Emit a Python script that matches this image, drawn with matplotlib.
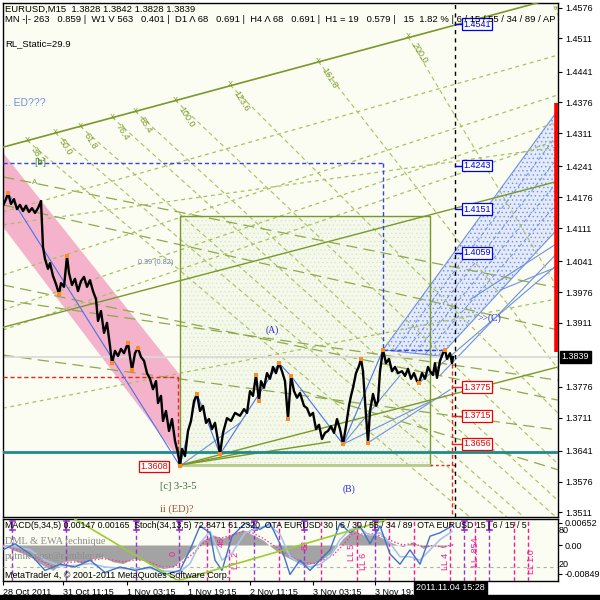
import numpy as np
import matplotlib
matplotlib.use('Agg')
import matplotlib.pyplot as plt
from matplotlib.patches import Polygon, Rectangle

plt.rcParams['font.family'] = ['Liberation Sans', 'DejaVu Sans']
plt.rcParams['hatch.linewidth'] = 0.5

# ---------------- data ----------------
bar_x = [3, 6, 8, 11, 14, 17, 20, 23, 26, 29, 32, 35, 38, 41, 43, 45, 48, 50, 53, 56, 59, 61, 64, 67, 69, 72, 75, 78,
         81, 84, 87, 90, 93, 96, 98, 101, 104, 107, 110, 112, 115, 118, 121, 124, 128, 130, 132, 135, 138, 141, 144,
         147, 150, 153, 156, 158, 161, 163, 166, 169, 172, 175, 178, 180, 182, 185, 188, 191, 194, 197, 200, 203, 206,
         209, 212, 215, 218, 220, 223, 227, 231, 235, 240, 244, 247, 250, 253, 256, 259, 261, 264, 267, 270, 273, 276,
         279, 282, 285, 288, 291, 294, 297, 300, 304, 307, 310, 313, 316, 319, 322, 325, 328, 331, 334, 337, 340, 343,
         346, 349, 351, 353, 356, 359, 361, 363, 365, 368, 370, 373, 376, 378, 380, 383, 386, 389, 392, 395, 398, 402,
         405, 408, 411, 414, 417, 419, 422, 425, 428, 430, 433, 435, 437, 440, 443, 445, 447, 450, 452, 453]
close = [1.4158, 1.4172, 1.4185, 1.4162, 1.4172, 1.4151, 1.4160, 1.4147, 1.4158, 1.4145, 1.4153, 1.4143, 1.4153,
         1.4168, 1.4071, 1.4046, 1.4025, 1.4037, 1.4010, 1.3993, 1.3972, 1.3995, 1.3987, 1.4052, 1.4016, 1.3991,
         1.4004, 1.3978, 1.3999, 1.4008, 1.3987, 1.4001, 1.3978, 1.3961, 1.3915, 1.3936, 1.3890, 1.3911, 1.3862,
         1.3826, 1.3852, 1.3841, 1.3856, 1.3847, 1.3869, 1.3839, 1.3812, 1.3847, 1.3858, 1.3839, 1.3831, 1.3805,
         1.3793, 1.3771, 1.3788, 1.3742, 1.3757, 1.3704, 1.3725, 1.3683, 1.3708, 1.3662, 1.3636, 1.3609, 1.3645,
         1.3630, 1.3683, 1.3704, 1.3746, 1.3761, 1.3725, 1.3736, 1.3700, 1.3708, 1.3687, 1.3700, 1.3662, 1.3634,
         1.3679, 1.3710, 1.3704, 1.3721, 1.3715, 1.3729, 1.3721, 1.3767, 1.3757, 1.3801, 1.3746, 1.3788, 1.3774,
         1.3805, 1.3793, 1.3818, 1.3805, 1.3826, 1.3809, 1.3788, 1.3708, 1.3799, 1.3767, 1.3753, 1.3763, 1.3736,
         1.3731, 1.3715, 1.3721, 1.3687, 1.3696, 1.3666, 1.3679, 1.3683, 1.3693, 1.3679, 1.3708, 1.3687, 1.3655,
         1.3693, 1.3736, 1.3757, 1.3774, 1.3805, 1.3820, 1.3835, 1.3809, 1.3746, 1.3658, 1.3725, 1.3761, 1.3736,
         1.3746, 1.3809, 1.3854, 1.3826, 1.3835, 1.3809, 1.3818, 1.3805, 1.3809, 1.3799, 1.3814, 1.3793, 1.3805,
         1.3788, 1.3784, 1.3805, 1.3793, 1.3818, 1.3809, 1.3801, 1.3826, 1.3795, 1.3831, 1.3847, 1.3854, 1.3835,
         1.3847, 1.3826, 1.3839]
swing_x = [8, 59, 67, 112, 128, 132, 138, 180, 197, 220, 256, 259, 279, 288, 291, 343, 361, 368, 383, 419, 445]

price_ticks = [1.4576, 1.4511, 1.4441, 1.4376, 1.4311, 1.4241, 1.4176, 1.4111, 1.4041, 1.3976, 1.3911,
               1.3776, 1.3711, 1.3641, 1.3576, 1.3511]
last_price = 1.3839
date_pos = [3, 63, 127, 188, 250, 313, 375]
date_labels = ['28 Oct 2011', '31 Oct 11:15', '1 Nov 03:15', '1 Nov 19:15', '2 Nov 11:15', '3 Nov 03:15', '3 Nov 19:']

# trend-line objects: ((t0, p0), (t1, p1))
fib_main = ((0, 1.4280), (558, 1.4598))
olive_solid = [((0, 1.3900), (558, 1.4210)), ((180, 1.3611), (558, 1.3818)),
               ((180, 1.3611), (330, 1.3660)), ((180, 1.3611), (250, 1.3640))]
olive_longdash = [((3, 1.4219), (558, 1.3985)), ((3, 1.4160), (558, 1.3896)), ((3, 1.3991), (558, 1.3748)),
                  ((3, 1.3959), (558, 1.3790)), ((3, 1.3843), (558, 1.3685)), ((300, 1.3769), (558, 1.3601))]
olive_shortdash = [((3, 1.4145), (558, 1.4476)), ((3, 1.4012), (558, 1.4392)), ((3, 1.3896), (558, 1.4297)),
                   ((3, 1.3731), (558, 1.3962)), ((3, 1.4118), (558, 1.4282)), ((3, 1.3938), (558, 1.4335))]
fib_names = ['38.2', '50.0', '61.8', '76.4', '85.4', '100.0', '123.6', '161.8', '200.0', '261.8']
fib_t0 = [27, 55, 80, 112, 135, 175, 230, 318, 408, 550]
fib_p0 = [1.4296, 1.4312, 1.4326, 1.4345, 1.4358, 1.4381, 1.4413, 1.4463, 1.4515, 1.4597]
fib_t1 = [470, 507, 524, 556, 576, 614, 662, 674, 694, 786]
fib_p1 = 1.3501
box_t = (180, 430)
box_p = (1.3611, 1.4137)
pink_channel = [(0, 1.4278), (246, 1.3626), (178, 1.3626), (0, 1.4122)]
pink_small = [(382, 1.3862), (392, 1.3862), (424, 1.3790), (416, 1.3776)]
blue_channel = [(383, 1.3854), (558, 1.4360), (558, 1.4110), (440, 1.3841)]
blue_channel_inner = [((395, 1.3854), (558, 1.4310)), ((405, 1.3850), (558, 1.4260)), ((415, 1.3848), (558, 1.4210)),
                      ((425, 1.3845), (558, 1.4165))]
blue_zigzag_t = [8, 180, 197, 220, 279, 291, 343, 383]
blue_fan = [((343, 1.3655), (400, 1.3800)), ((343, 1.3655), (430, 1.3745)), ((368, 1.3658), (450, 1.3770)),
            ((180, 1.3609), (240, 1.3700)), ((419, 1.3784), (558, 1.4035)), ((440, 1.3800), (558, 1.4060)),
            ((470, 1.3960), (558, 1.4080)), ((500, 1.3980), (558, 1.4030))]
red_levels = [1.3775, 1.3715, 1.3656]
blue_levels = [1.4541, 1.4243, 1.4151, 1.4059]
low_level = 1.3608
teal_level = 1.3639
b_rect_p = 1.4248
b_rect_t = 383
b_rect_low = 1.3854
red_rect_p = 1.3797
red_rect_t = 178
red_bar = (1.3850, 1.4375)
now_t = 455

macd_x = [3, 13, 23, 33, 43, 53, 63, 73, 83, 93, 103, 113, 123, 133, 143, 153, 163, 173, 183, 193, 203, 213, 223,
          233, 243, 253, 263, 273, 283, 293, 303, 313, 323, 333, 343, 353, 363, 373, 383, 393, 403, 413, 423, 433,
          443, 453]
macd_v = [0.0, -0.0015, -0.0025, -0.004, -0.006, -0.0075, -0.005, -0.0045, -0.0055, -0.004, -0.0035, -0.005,
          -0.0055, -0.004, -0.0045, -0.006, -0.007, -0.0065, -0.004, -0.001, 0.0015, 0.003, 0.002, 0.0035, 0.0045,
          0.003, 0.0015, -0.001, -0.003, -0.0045, -0.006, -0.0055, -0.004, -0.002, 0.002, 0.0045, 0.003, 0.0035,
          0.002, 0.0005, -0.0005, 0.001, -0.001, 0.0, -0.0008, 0.0005]
macd_sig = [0.0, -0.001, -0.002, -0.0035, -0.005, -0.0065, -0.0055, -0.005, -0.005, -0.0045, -0.004, -0.0045,
            -0.005, -0.0045, -0.0045, -0.0055, -0.0065, -0.0065, -0.005, -0.0025, 0.0005, 0.002, 0.0022, 0.003,
            0.004, 0.0035, 0.002, 0.0, -0.002, -0.0038, -0.0052, -0.0055, -0.0045, -0.003, 0.0, 0.0035, 0.0032,
            0.0033, 0.0025, 0.001, 0.0, 0.0005, -0.0005, -0.0002, -0.0006, 0.0]
stoch_x = [3, 15, 30, 45, 60, 75, 90, 105, 120, 135, 150, 165, 180, 190, 200, 210, 215, 222, 232, 245, 260, 270, 280,
           290, 300, 310, 320, 330, 340, 350, 360, 370, 380, 390, 400, 410, 420, 430, 440, 452]
stoch_main = [45, 54, 39, 15, 24, 20, 30, 12, 20, 15, 20, 9, 15, 45, 80, 70, 30, 15, 65, 84, 75, 84, 54, 9, 30, 15,
              30, 45, 84, 70, 80, 54, 80, 39, 24, 45, 24, 65, 70, 80]
stoch_sig = [50, 50, 45, 30, 22, 22, 25, 20, 18, 17, 18, 14, 13, 25, 55, 72, 55, 30, 40, 70, 78, 80, 68, 35, 25, 20,
             24, 35, 60, 75, 76, 66, 70, 55, 35, 35, 30, 45, 60, 72]
purple_lines = [12, 66, 136, 179, 254, 304, 375, 464, 489]
magenta_lines = [207, 229, 279, 321, 357, 389, 414, 450, 475, 514, 528]
magenta_labels = [('0', 173, 40), ('46', 221, 56), ('LL 2', 236, 30), ('82', 305, 52), ('LL 5', 352, 41),
                  ('LL 6', 364, 28), ('LL 4', 445, 28), ('LL .854', 475, 42), ('LL 1.0', 532, 28)]
panel_green = [(75, 90), (178, 0), (385, 88)]

# ---------------- figure ----------------
BG = '#fbfdf2'
fig = plt.figure(figsize=(6, 6), dpi=100, facecolor='white')
ax = fig.add_axes([3 / 600, 83 / 600, 555 / 600, 514 / 600])
ax.set_facecolor(BG)
ax.set_xlim(3, 558)
ax.set_ylim(1.35014, 1.45859)
for s in ax.spines.values():
    s.set_color('black')
    s.set_linewidth(1)

OL = '#7a982a'
YG = '#a9c060'

# pink channel
ax.add_patch(Polygon(pink_channel, closed=True, facecolor='#f4b3cb', edgecolor='none', zorder=1))
ax.add_patch(Polygon(pink_small, closed=True, facecolor='#f4b3cb', edgecolor='none', zorder=1))

# box with dotted fill
ax.add_patch(Rectangle((box_t[0], box_p[0]), box_t[1] - box_t[0], box_p[1] - box_p[0], facecolor='#f5f9ec',
                       edgecolor='#dbe7c6', hatch='....', linewidth=0, zorder=1))
ax.add_patch(Rectangle((box_t[0], box_p[0]), box_t[1] - box_t[0], box_p[1] - box_p[0], facecolor='none',
                       edgecolor=OL, linewidth=1.0, zorder=3))
ax.plot([box_t[0], box_t[1]], [box_p[0], box_p[0]], color='#b9cb8a', lw=2, zorder=3)

# blue channel
ax.add_patch(Polygon(blue_channel, closed=True, facecolor='#e4eaf8', edgecolor='#6d8fe6', hatch='....',
                     linewidth=0.8, zorder=1))
for (a, b) in blue_channel_inner:
    ax.plot([a[0], b[0]], [a[1], b[1]], color='#6d8fe6', lw=0.7, ls=(0, (4, 3)), zorder=2)
for (a, b) in blue_fan:
    ax.plot([a[0], b[0]], [a[1], b[1]], color='#6d8fe6', lw=0.8, zorder=2)

# fib lines
ax.plot([fib_main[0][0], fib_main[1][0]], [fib_main[0][1], fib_main[1][1]], color=OL, lw=1.2, zorder=3)
for name, t0, p0, t1 in zip(fib_names, fib_t0, fib_p0, fib_t1):
    ax.plot([t0, t1], [p0, fib_p1], color=YG, lw=0.8, ls=(0, (4, 3)), zorder=2)
    ax.text(t0 + 2, p0 - 0.0010, name, color=OL, fontsize=6.5, rotation=-58, ha='left', va='top', zorder=4,
            clip_on=True)
    ax.text(t0, p0, 'X', color=OL, fontsize=5.5, ha='center', va='center', zorder=4, clip_on=True)

for (a, b) in olive_solid:
    ax.plot([a[0], b[0]], [a[1], b[1]], color=OL, lw=1.0, zorder=3)
for (a, b) in olive_longdash:
    ax.plot([a[0], b[0]], [a[1], b[1]], color='#8fa94a', lw=0.9, ls=(0, (9, 5)), zorder=2)
for (a, b) in olive_shortdash:
    ax.plot([a[0], b[0]], [a[1], b[1]], color=YG, lw=0.9, ls=(0, (3, 3)), zorder=2)

# horizontal levels
ax.axhline(last_price, color='#d8d8d8', lw=1.2, zorder=2)
ax.axhline(teal_level, color='#1f8a8a', lw=2, zorder=4)
ax.plot([3, b_rect_t], [b_rect_p, b_rect_p], color='#3344ee', lw=1, ls=(0, (3, 2)), zorder=3)
ax.plot([b_rect_t, b_rect_t], [b_rect_p, b_rect_low], color='#3344ee', lw=1, ls=(0, (3, 2)), zorder=3)
ax.plot([b_rect_t, 445], [b_rect_low, b_rect_low], color='#3344ee', lw=1, ls=(0, (3, 2)), zorder=3)
ax.plot([3, red_rect_t], [red_rect_p, red_rect_p], color='#ee2222', lw=1, ls=(0, (3, 2)), zorder=3)
ax.plot([red_rect_t, red_rect_t], [red_rect_p, box_p[0]], color='#ee2222', lw=1, ls=(0, (3, 2)), zorder=3)
ax.plot([box_t[1], now_t], [box_p[0], box_p[0]], color='#ee2222', lw=1, ls=(0, (2, 2)), zorder=3)
ax.axvline(now_t, color='black', lw=1, ls=(0, (3, 3)), zorder=5)
ax.plot([452, 452], [last_price, 1.3501], color='#ee2222', lw=1, ls=(0, (3, 2)), zorder=5)
ax.plot([557, 557], list(red_bar), color='#ff0000', lw=4, solid_capstyle='butt', zorder=6)

# blue zigzag
lookup = dict(zip(bar_x, close))
ax.plot(blue_zigzag_t, [lookup[t] for t in blue_zigzag_t], color='#4a72e8', lw=0.8, zorder=4)

# price
ax.plot(bar_x, close, color='black', lw=1.7, zorder=7)
ax.scatter(swing_x, [lookup[t] for t in swing_x], marker='s', s=6, color='#ff8c1a', zorder=8, linewidths=0)

# level boxes
for v in red_levels:
    ax.plot([452, 462], [v, v], color='#ee2222', lw=1, zorder=6)
    ax.text(463, v, f'{v:.4f}', color='#ee0000', fontsize=6.5, ha='left', va='center', zorder=9,
            bbox=dict(boxstyle='square,pad=0.15', facecolor='white', edgecolor='#ee0000', lw=0.9))
for v in blue_levels:
    ax.plot([455, 462], [v, v], color='#0000ee', lw=1, zorder=6)
    ax.text(463, v, f'{v:.4f}', color='#0000ee', fontsize=6.5, ha='left', va='center', zorder=9,
            bbox=dict(boxstyle='square,pad=0.15', facecolor=BG, edgecolor='#0000ee', lw=0.9))
ax.text(168, low_level, f'{low_level:.4f}', color='#ee0000', fontsize=6.5, ha='right', va='center', zorder=9,
        bbox=dict(boxstyle='square,pad=0.15', facecolor='white', edgecolor='#ee0000', lw=0.9))

# wave labels
ax.text(272, 1.3896, '(A)', color='#2b2bd0', fontsize=7, family='Liberation Serif', ha='center', va='center')
ax.text(349, 1.3561, '(B)', color='#2b2bd0', fontsize=7, family='Liberation Serif', ha='center', va='center')
ax.text(478, 1.3921, '>>(C)', color='#2b2bd0', fontsize=7, family='Liberation Serif', ha='left', va='center', zorder=9)
ax.text(160, 1.3565, '[c] 3-3-5', color='#2f6e2f', fontsize=7.5, family='Liberation Serif', ha='left', va='center')
ax.text(160, 1.3518, 'ii (ED)?', color='#a0522d', fontsize=7.5, family='Liberation Serif', ha='left', va='center')
ax.text(5, 1.4375, '.. ED???', color='#6f8fdf', fontsize=7.5, ha='left', va='center')
ax.text(34, 1.4250, '[b]', color='#2f7a2f', fontsize=7.5, family='Liberation Serif', ha='left', va='center')
ax.text(32, 1.4208, 'A', color='#7f9c2c', fontsize=5.5, ha='left', va='center')
ax.text(138, 1.4039, '0.39 (0.82)', color='#6a7fa0', fontsize=5.2, ha='left', va='center')

# header
ax.text(0.004, 0.988, 'EURUSD,M15  1.3828 1.3842 1.3828 1.3839', transform=ax.transAxes, fontsize=6.8,
        ha='left', va='center', zorder=10)
ax.text(0.004, 0.967, 'MN -|- 263   0.859 |  W1 V 563   0.401 |  D1 Λ 68   0.691 |  H4 Λ 68   0.691 |  '
        'H1 = 19   0.579 |   15  1.82 % | 6 / 15 / 55 / 34 / 89 / AP', transform=ax.transAxes, fontsize=6.8,
        ha='left', va='center', zorder=10, clip_on=True)
ax.text(0.004, 0.920, 'RL_Static=29.9', transform=ax.transAxes, fontsize=6.8, ha='left', va='center', zorder=10)

ax.set_xticks([])
ax.yaxis.tick_right()
ax.set_yticks(price_ticks)
ax.set_yticklabels([f'{v:.4f}' for v in price_ticks])
ax.tick_params(axis='y', direction='out', length=3, labelsize=6.5, pad=2)
ax.text(1.006, (last_price - 1.35014) / (1.45859 - 1.35014), f'{last_price:.4f}', transform=ax.transAxes,
        fontsize=6.5, color='white', ha='left', va='center',
        bbox=dict(boxstyle='square,pad=0.2', facecolor='black', edgecolor='black'))

# ---------------- indicator panel ----------------
ax2 = fig.add_axes([3 / 600, 19 / 600, 555 / 600, 62 / 600])
ax2.set_facecolor(BG)
ax2.set_xlim(3, 558)
ax2.set_ylim(-0.01066, 0.0077)
ax2.fill_between(macd_x, 0, macd_v, color='#a3a3a3', lw=0, zorder=2)
ax2.plot(macd_x, macd_sig, color='#ff3399', lw=1, ls=(0, (1, 1.5)), zorder=3)
for s in ax2.spines.values():
    s.set_color('black')
    s.set_linewidth(1)

ax3 = ax2.twinx()
ax3.set_ylim(-0.5, 90.2)
ax3.set_xlim(3, 558)
ax3.set_yticks([])
for s in ax3.spines.values():
    s.set_visible(False)

ax2.yaxis.tick_right()
ax2.set_yticks([0.00652, 0.0, -0.00849])
ax2.set_yticklabels(['0.00652', '0.00', '-0.00849'])
ax2.tick_params(axis='y', direction='out', length=3, labelsize=6.5, pad=2, left=False, labelleft=False,
                right=True, labelright=True)
ax2.set_xticks(date_pos)
ax2.set_xticklabels(date_labels)
for lbl in ax2.get_xticklabels():
    lbl.set_ha('left')
ax2.tick_params(axis='x', direction='out', length=3, labelsize=6.5, pad=2)

ax3.axhline(20, color='#b0b0b0', lw=0.8, ls=(0, (3, 3)), zorder=1)
for x in purple_lines:
    ax3.axvline(x, color='#9932cc', lw=1, ls=(0, (3, 2)), zorder=2)
    ax3.plot([x, x], [74, 88], color='#9932cc', lw=1.5, zorder=3)
    ax3.plot([x - 2.5, x + 2.5], [88, 88], color='#9932cc', lw=1.2, zorder=3)
    ax3.plot([x - 2.5, x + 2.5], [74, 74], color='#9932cc', lw=1.2, zorder=3)
for x in magenta_lines:
    ax3.axvline(x, color='#ff1493', lw=1, ls=(0, (3, 2)), zorder=2)
for t, x, yv in magenta_labels:
    ax3.text(x, yv, t, color='#ff1493', fontsize=6.5, rotation=90, ha='center', va='center', zorder=3)
ax3.plot(stoch_x, stoch_sig, color='#a9c4eb', lw=1.2, zorder=4)
ax3.plot(stoch_x, stoch_main, color='#3d72cc', lw=1.0, zorder=5)
ax3.plot([p[0] for p in panel_green], [p[1] for p in panel_green], color='#9acd32', lw=1.2, zorder=6)
ax3.text(559, 74, '80', fontsize=6.5, ha='left', va='center', clip_on=False)
ax3.text(559, 24, '20', fontsize=6.5, ha='left', va='center', clip_on=False)

ax3.text(5, 81, 'MACD(5,34,5) 0.00147 0.00165  Stoch(34,13,5) 72.8471 61.2320  OTA EURUSD 30 | 6 / 30 / 55 / 34 / 89'
         '  OTA EURUSD 15 | 6 / 15 / 5', fontsize=6.3, ha='left', va='center', zorder=8, clip_on=True)
ax3.text(5, 57, 'DML & EWA technique', fontsize=7.5, color='#8c8c8c', family='Liberation Serif', ha='left',
         va='center', zorder=8)
ax3.text(5, 35, 'putnik-post@rambler.ru', fontsize=7.5, color='#8c8c8c', family='Liberation Serif', ha='left',
         va='center', zorder=8)
ax3.text(5, 7, 'MetaTrader 4, © 2001-2011 MetaQuotes Software Corp.', fontsize=6.5, ha='left', va='center', zorder=8)

fig.text(416 / 600, 1 - 588 / 600, '2011.11.04 15:28', fontsize=6.5, color='white', ha='left', va='center',
         bbox=dict(boxstyle='square,pad=0.2', facecolor='black', edgecolor='black'))
fig.add_artist(Rectangle((0, 0), 1, 5 / 600, transform=fig.transFigure, color='black'))

fig.savefig('out.png', dpi=100, facecolor='white')
